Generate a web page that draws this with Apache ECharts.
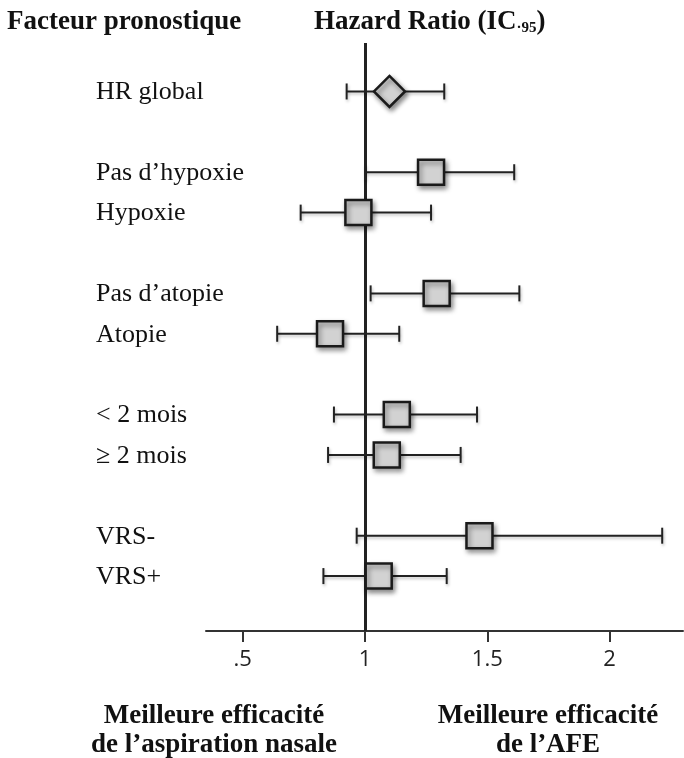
<!DOCTYPE html>
<html>
<head>
<meta charset="utf-8">
<script src="https://cdn.jsdelivr.net/npm/echarts@6/dist/echarts.min.js"></script>
<style>html,body{margin:0;padding:0;background:#fff;}#c{width:684px;height:758px;}</style>
</head>
<body>
<div id="c"></div>
<script>
// Rows (blank strings are gaps between groups)
const categories = ['HR global', '', 'Pas d\u2019hypoxie', 'Hypoxie', '', 'Pas d\u2019atopie', 'Atopie', '', '< 2 mois', '\u2265 2 mois', '', 'VRS-', 'VRS+'];
const hazardRatio = [1.10, null, 1.27, 0.973, null, 1.293, 0.857, null, 1.13, 1.089, null, 1.468, 1.056];
const ciLower     = [0.925, null, 1.00, 0.737, null, 1.023, 0.641, null, 0.873, 0.849, null, 0.966, 0.83];
const ciUpper     = [1.324, null, 1.61, 1.27, null, 1.631, 1.14, null, 1.458, 1.391, null, 2.215, 1.334];
const markerKind  = ['diamond', null, 'square', 'square', null, 'square', 'square', null, 'square', 'square', null, 'square', 'square'];
const tickValues = [0.5, 1, 1.5, 2];
const tickLabels = ['.5', '1', '1.5', '2'];
const referenceValue = 1;

const data = [];
categories.forEach((c, i) => {
  if (c !== '' && hazardRatio[i] != null) {
    data.push([i, ciLower[i], hazardRatio[i], ciUpper[i], c, markerKind[i]]);
  }
});

const SERIF = '"Liberation Serif", "DejaVu Serif", serif';
const shadow = {shadowBlur: 5, shadowOffsetX: 2, shadowOffsetY: 3, shadowColor: 'rgba(0,0,0,0.45)'};
const lineShadow = {shadowBlur: 3, shadowOffsetX: 1, shadowOffsetY: 2, shadowColor: 'rgba(0,0,0,0.25)'};

function renderItem(params, api) {
  const row = api.value(0);
  const pLo = api.coord([api.value(1), row]);
  const pHr = api.coord([api.value(2), row]);
  const pHi = api.coord([api.value(3), row]);
  const y = pHr[1];
  const kind = data[params.dataIndex][5];
  const label = data[params.dataIndex][4];
  const ls = Object.assign({stroke: '#222', lineWidth: 2}, lineShadow);
  const children = [
    {type: 'line', shape: {x1: pLo[0], y1: y, x2: pHi[0], y2: y}, style: ls},
    {type: 'line', shape: {x1: pLo[0], y1: y - 8, x2: pLo[0], y2: y + 8}, style: ls},
    {type: 'line', shape: {x1: pHi[0], y1: y - 8, x2: pHi[0], y2: y + 8}, style: ls}
  ];
  const ms = Object.assign({fill: '#d2d2d2', stroke: '#1a1a1a', lineWidth: 2.5}, shadow);
  if (kind === 'diamond') {
    const h = 15.5;
    children.push({type: 'polygon', shape: {points: [[pHr[0], y - h], [pHr[0] + h, y], [pHr[0], y + h], [pHr[0] - h, y]]}, style: ms});
  } else {
    children.push({type: 'rect', shape: {x: pHr[0] - 13, y: y - 12.5, width: 26, height: 25}, style: ms});
  }
  children.push({type: 'text', style: {x: 96, y: y + 1, text: label, font: '26px ' + SERIF, fill: '#111', verticalAlign: 'middle', align: 'left'}});
  return {type: 'group', children: children};
}

const chart = echarts.init(document.getElementById('c'), null, {renderer: 'canvas'});
chart.setOption({
  animation: false,
  backgroundColor: '#fff',
  grid: {left: 206, right: 1, top: 43, bottom: 127},
  xAxis: {
    type: 'value', min: 0.35, max: 2.3,
    splitLine: {show: false},
    axisLine: {show: true, onZero: false, lineStyle: {color: '#333', width: 2}},
    axisTick: {show: true, customValues: tickValues, length: 11, lineStyle: {color: '#333', width: 2}},
    axisLabel: {
      show: true, customValues: tickValues, margin: 18,
      formatter: v => tickLabels[tickValues.indexOf(v)] ?? String(v),
      fontSize: 22, color: '#222', fontFamily: '"Open Sans", "Liberation Sans", sans-serif'
    }
  },
  yAxis: {
    type: 'value', inverse: true, min: -1.2, max: 13.36,
    show: false, splitLine: {show: false}
  },
  series: [{
    type: 'custom',
    renderItem: renderItem,
    data: data,
    encode: {x: [1, 2, 3], y: 0},
    z: 5,
    markLine: {
      silent: true, symbol: 'none', z: 3,
      label: {show: false},
      lineStyle: {color: '#222', width: 3, type: 'solid'},
      data: [{xAxis: referenceValue}]
    }
  }],
  graphic: [
    {type: 'text', x: 7, y: 22, style: {text: 'Facteur pronostique', font: 'bold 27px ' + SERIF, fill: '#111', verticalAlign: 'middle'}},
    {type: 'text', x: 314, y: 22, style: {
      text: '{m|Hazard Ratio (IC}{s|\u00b795}{m|)}',
      verticalAlign: 'middle',
      rich: {
        m: {font: 'bold 27px ' + SERIF, fill: '#111', lineHeight: 32, verticalAlign: 'middle'},
        s: {font: 'bold 15px ' + SERIF, fill: '#111', lineHeight: 32, verticalAlign: 'bottom', padding: [0, 0, 2, 0]}
      }
    }},
    {type: 'text', x: 214, y: 716, style: {text: 'Meilleure efficacit\u00e9', font: 'bold 27px ' + SERIF, fill: '#111', align: 'center', verticalAlign: 'middle'}},
    {type: 'text', x: 214, y: 745, style: {text: 'de l\u2019aspiration nasale', font: 'bold 27px ' + SERIF, fill: '#111', align: 'center', verticalAlign: 'middle'}},
    {type: 'text', x: 548, y: 716, style: {text: 'Meilleure efficacit\u00e9', font: 'bold 27px ' + SERIF, fill: '#111', align: 'center', verticalAlign: 'middle'}},
    {type: 'text', x: 548, y: 745, style: {text: 'de l\u2019AFE', font: 'bold 27px ' + SERIF, fill: '#111', align: 'center', verticalAlign: 'middle'}}
  ]
});
</script>
</body>
</html>
